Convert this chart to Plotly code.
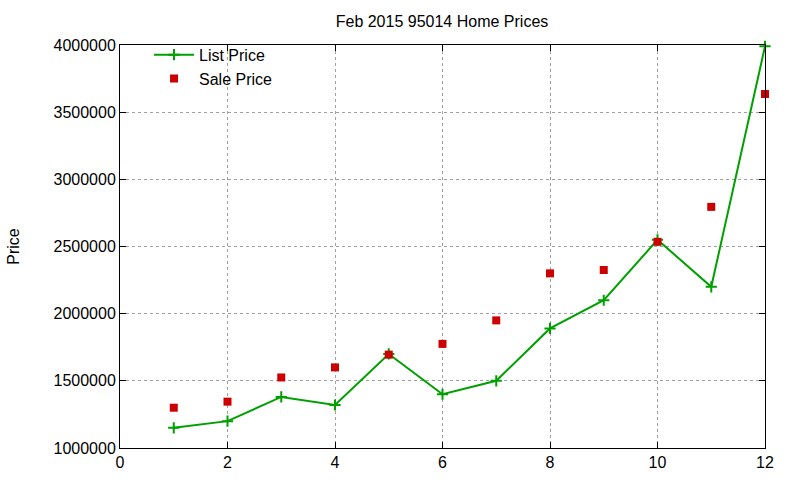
import plotly.graph_objects as go

months = [1, 2, 3, 4, 5, 6, 7, 8, 9, 10, 11, 12]
list_price = [1150000, 1200000, 1380000, 1320000, 1700000, 1400000, 1500000,
              1890000, 2100000, 2550000, 2200000, 3990000]
sale_price = [1300000, 1345000, 1525000, 1600000, 1695000, 1775000, 1950000,
              2300000, 2325000, 2535000, 2795000, 3635000]
x_ticks = [0, 2, 4, 6, 8, 10, 12]
y_ticks = [1000000, 1500000, 2000000, 2500000, 3000000, 3500000, 4000000]
y_tick_labels = [str(v) for v in y_ticks]

font = "Liberation Sans, Arial, sans-serif"
fs = 16

fig = go.Figure()
fig.add_trace(go.Scatter(
    x=months, y=list_price, name="List Price", mode="lines+markers",
    line=dict(color="#00a000", width=2),
    marker=dict(symbol="cross-thin-open", size=8, line=dict(color="#00a000", width=2)),
    cliponaxis=False,
))
fig.add_trace(go.Scatter(
    x=months, y=sale_price, name="Sale Price", mode="markers",
    marker=dict(symbol="square", size=8, color="#cc0000"),
    cliponaxis=False,
))

axis_common = dict(
    showline=True, linecolor="black", linewidth=1, mirror="ticks",
    ticks="inside", ticklen=6, tickcolor="black",
    showgrid=True, gridcolor="#a0a0a0", griddash="dot", gridwidth=1,
    zeroline=False, tickfont=dict(family=font, size=fs, color="black"),
    automargin=False,
)

fig.update_layout(
    width=800, height=480,
    margin=dict(l=120, r=35, t=45, b=32),
    paper_bgcolor="white", plot_bgcolor="white",
    title=dict(text="Feb 2015 95014 Home Prices", x=0.5525, xanchor="center",
               y=0.955, yanchor="middle",
               font=dict(family=font, size=fs, color="black")),
    xaxis=dict(range=[0, 12], tickvals=x_ticks, **axis_common),
    yaxis=dict(range=[1000000, 4000000], tickvals=y_ticks, ticktext=y_tick_labels,
               title=dict(text="Price", font=dict(family=font, size=fs, color="black"),
                          standoff=29),
               **axis_common),
    legend=dict(x=0.045, y=1.018, xanchor="left", yanchor="top",
                bgcolor="rgba(0,0,0,0)", font=dict(family=font, size=fs, color="black"),
                tracegroupgap=0, itemwidth=40),
    showlegend=True,
)

fig.write_html("out.html")
